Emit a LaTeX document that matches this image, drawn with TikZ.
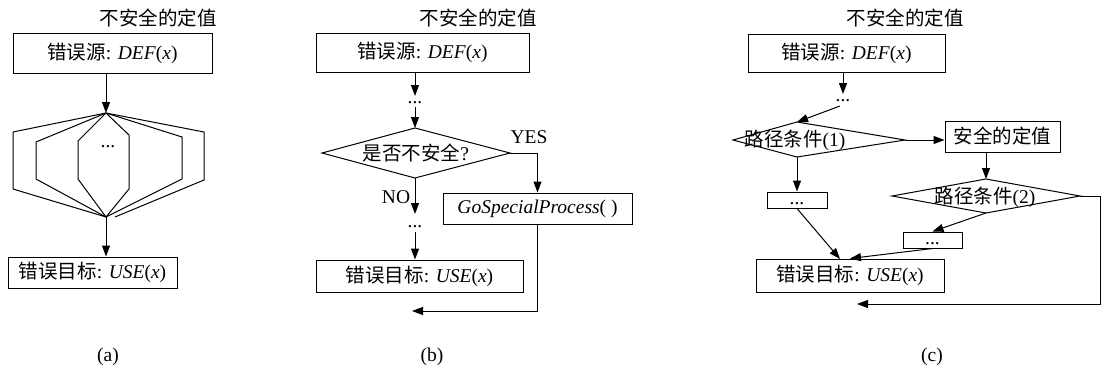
\documentclass[tikz,border=0pt]{standalone}
\usepackage{fontspec}
\setmainfont{Liberation Serif}
\newfontfamily\cjk{Noto Sans CJK SC}
\usetikzlibrary{arrows.meta}
\newcommand\myfs{\fontsize{19.5}{22}\selectfont}
\begin{document}
\begin{tikzpicture}[x=1pt,y=-1pt,
  every node/.style={font=\myfs, inner sep=0pt},
  box/.style={draw, line width=1pt, fill=white},
  lbl/.style={},
  ln/.style={line width=1pt, line join=miter},
  arr/.style={line width=1pt, -{Triangle[length=11pt,width=8pt]}},
  small/.style={box, text height=9pt, text depth=0pt, minimum height=16pt}
]
\useasboundingbox (0,0) rectangle (1106,373);

% ---------------- (a) ----------------
\node[lbl] (alab) at (158,18) {\cjk 不安全的定值};
\node[box, minimum width=199pt, minimum height=40pt] (a1) at (112.5,53) {{\cjk 错误源}: \textit{DEF}(\textit{x})};
\coordinate (aapex) at (106,113);
\coordinate (abot) at (106,217);
\coordinate (abotr) at (115,217);
\draw[arr] (a1.south -| aapex) -- (aapex);
\draw[ln] (aapex) -- (13,132) -- (13,189) -- (abot);
\draw[ln] (aapex) -- (204,132) -- (204,180) -- (abotr);
\draw[ln] (aapex) -- (36,142) -- (36,179) -- (abot);
\draw[ln] (aapex) -- (182,137) -- (182,179) -- (abot);
\draw[ln] (aapex) -- (78,141) -- (78,179) -- (abot);
\draw[ln] (aapex) -- (129,135) -- (129,189) -- (abot);
\node (adots) at (108,147) {...};
\node[box, minimum width=169pt, minimum height=31pt] (a2) at (92.5,272.5) {{\cjk 错误目标}: \textit{USE}(\textit{x})};
\draw[arr] (abot) -- (a2.north -| abot);
\node (acap) at (108,357) {(a)};

% ---------------- (b) ----------------
\node[lbl] (blab) at (478,18) {\cjk 不安全的定值};
\node[box, minimum width=213pt, minimum height=39pt] (b1) at (422.5,52.5) {{\cjk 错误源}: \textit{DEF}(\textit{x})};
\node (bdots1) at (415,103) {...};
\coordinate (bdt) at (415,128);
\coordinate (bdl) at (322,153);
\coordinate (bdr) at (510,153);
\coordinate (bdb) at (415,178);
\draw[arr] (b1.south -| bdt) -- (415,96);
\draw[arr] (415,107) -- (bdt);
\draw[ln] (bdt) -- (bdr) -- (bdb) -- (bdl) -- cycle;
\node (bdtext) at (416,153) {{\cjk 是否不安全}?};
\node (byes) at (529,137) {YES};
\node[box, minimum width=189pt, minimum height=31pt] (b3) at (537.5,208.5) {\textit{GoSpecialProcess}( )};
\draw[arr] (bdr) -- (b3.north |- bdr) -- (b3.north);
\node (bno) at (396,197) {NO};
\node (bdots2) at (415,227) {...};
\draw[arr] (bdb) -- (415,214);
\node[box, minimum width=207pt, minimum height=32pt] (b4) at (419.5,276) {{\cjk 错误目标}: \textit{USE}(\textit{x})};
\draw[arr] (415,232) -- (b4.north -| bdb);
\coordinate (bend) at (412,311);
\draw[arr] (b3.south) -- (b3.south |- bend) -- (bend);
\node (bcap) at (432,357) {(b)};

% ---------------- (c) ----------------
\node[lbl] (clab) at (905,18) {\cjk 不安全的定值};
\node[box, minimum width=197pt, minimum height=38pt] (c1) at (846.5,53) {{\cjk 错误源}: \textit{DEF}(\textit{x})};
\node (cdots) at (843,101) {...};
\draw[arr] (c1.south -| cdots) -- (843,94);
\coordinate (cd1t) at (797,122);
\coordinate (cd1l) at (733,140);
\coordinate (cd1r) at (905,140);
\coordinate (cd1b) at (797,157);
\draw[ln] (cd1t) -- (cd1r) -- (cd1b) -- (cd1l) -- cycle;
\node (cd1text) at (795,140) {{\cjk 路径条件}(1)};
\draw[arr] (840,106) -- (cd1t);
\node[box, minimum width=115pt, minimum height=31pt] (c2) at (1002.5,136.5) {\cjk 安全的定值};
\draw[arr] (cd1r) -- (cd1r -| c2.west);
\coordinate (cd2t) at (986,179);
\coordinate (cd2l) at (892,196);
\coordinate (cd2r) at (1080,196);
\coordinate (cd2b) at (986,213);
\draw[ln] (cd2t) -- (cd2r) -- (cd2b) -- (cd2l) -- cycle;
\node (cd2text) at (985,197) {{\cjk 路径条件}(2)};
\draw[arr] (cd2t |- c2.south) -- (cd2t);
\node[small, minimum width=60pt] (c3) at (797,200) {...};
\draw[arr] (cd1b) -- (c3.north);
\node[small, minimum width=59pt] (c4) at (932.5,240) {...};
\draw[arr] (cd2b) -- (c4.north);
\node[box, minimum width=188pt, minimum height=33pt] (c5) at (850,275.5) {{\cjk 错误目标}: \textit{USE}(\textit{x})};
\coordinate (cin1) at (840,259);
\coordinate (cin2) at (850,258.5);
\draw[arr] (c3.south) -- (cin1);
\draw[arr] (c4.south) -- (cin2);
\coordinate (cend) at (857,304);
\draw[arr] (cd2r) -- (1100,196) -- (1100,304) -- (cend);
\node (ccap) at (932,357) {(c)};
\end{tikzpicture}
\end{document}
